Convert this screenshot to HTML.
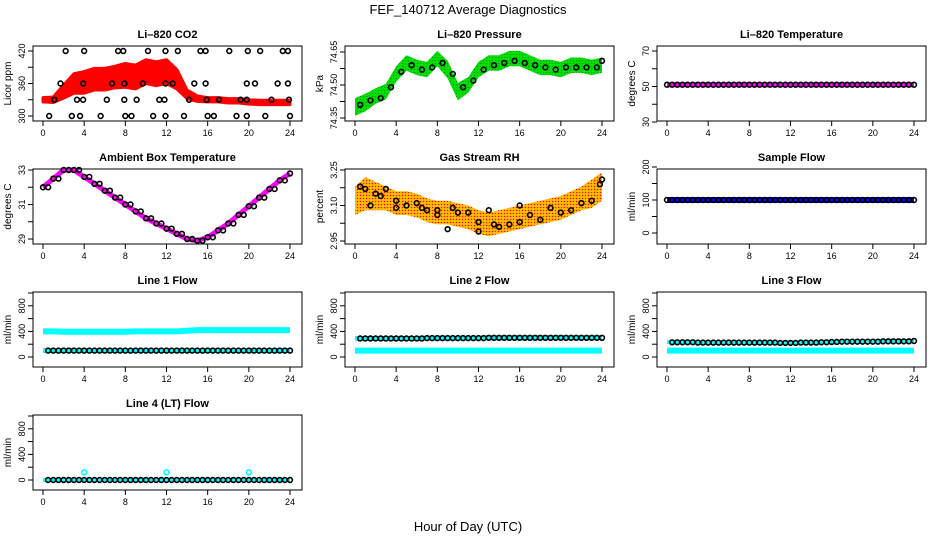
<!DOCTYPE html>
<html><head><meta charset="utf-8"><style>
body{margin:0;background:#fff}
svg{display:block;font-family:"Liberation Sans",sans-serif}
</style></head><body>
<svg id="c" width="936" height="540" viewBox="0 0 936 540" xmlns="http://www.w3.org/2000/svg">
<defs>
<pattern id="rhpat" width="3" height="3" patternUnits="userSpaceOnUse"><rect width="3" height="3" fill="#ffa500"/><rect width="1" height="1" fill="#ff0000"/><rect x="1.5" y="1.5" width="1" height="1" fill="#ffff00"/></pattern>
<pattern id="grpat" width="3" height="3" patternUnits="userSpaceOnUse"><rect width="3" height="3" fill="#00dd00"/><rect width="1" height="1" fill="#009900"/></pattern>
</defs>
<text x="468" y="14" font-size="13" text-anchor="middle">FEF_140712  Average Diagnostics</text>
<text x="468" y="531" font-size="13" text-anchor="middle">Hour of Day (UTC)</text>
</svg>
<script>
// ---- data ----
const hours = [0,1,2,3,4,5,6,7,8,9,10,11,12,13,14,15,16,17,18,19,20,21,22,23,24];
const co2Center = [330,330,345,360,362,368,368,372,375,372,382,378,382,368,340,332,330,330,328,328,326,325,325,325,325];
const co2Spread = [4,5,12,18,20,20,20,20,22,22,22,22,22,18,8,5,4,4,4,4,4,4,4,4,4];
const co2BlackH = [2.2,4.0,7.3,7.8,10.2,11.9,13.1,15.3,15.8,18.1,19.9,21.1,23.3,23.8,1.7,3.9,6.7,7.9,9.7,11.9,12.6,14.7,15.8,19.8,20.6,22.8,23.8,1.1,3.3,3.9,6.2,7.9,9.1,11.3,11.8,14.2,15.9,17.1,19.2,19.8,22.2,23.9,0.6,2.8,3.6,5.6,8.0,8.6,10.7,11.9,13.7,16.0,16.6,18.8,19.8,21.6,24.0];
const co2BlackV = [420,420,420,420,420,420,420,420,420,420,420,420,420,420,360,360,360,360,360,360,360,360,360,360,360,360,360,330,330,330,330,330,330,330,330,330,330,330,330,330,330,330,300,300,300,300,300,300,300,300,300,300,300,300,300,300,300];
const presCenter = [74.40,74.42,74.45,74.47,74.55,74.60,74.58,74.57,74.62,74.57,74.47,74.50,74.57,74.60,74.60,74.62,74.62,74.60,74.58,74.58,74.57,74.59,74.59,74.58,74.59];
const presSpread = [0.04,0.04,0.035,0.035,0.035,0.035,0.035,0.035,0.035,0.04,0.04,0.035,0.035,0.035,0.035,0.035,0.035,0.035,0.035,0.035,0.035,0.035,0.035,0.035,0.035];
const presBlackH = [0.5,1.5,2.5,3.5,4.5,5.5,6.5,7.5,8.5,9.5,10.5,11.5,12.5,13.5,14.5,15.5,16.5,17.5,18.5,19.5,20.5,21.5,22.5,23.5,24];
const presBlackV = [74.41,74.43,74.44,74.49,74.56,74.59,74.57,74.58,74.60,74.55,74.49,74.52,74.57,74.59,74.60,74.61,74.60,74.59,74.58,74.57,74.58,74.58,74.58,74.58,74.61];
const tempV = [51,51,51,51,51,51,51,51,51,51,51,51,51,51,51,51,51,51,51,51,51,51,51,51,51];
const ambV = [32.0,32.5,33.0,33.0,32.6,32.2,31.8,31.4,31.0,30.6,30.2,29.9,29.6,29.3,29.0,28.9,29.1,29.5,29.9,30.4,30.9,31.4,31.9,32.4,32.8];
const rhCenter = [3.12,3.15,3.14,3.13,3.11,3.11,3.10,3.08,3.07,3.07,3.06,3.05,3.03,3.02,3.03,3.04,3.05,3.06,3.07,3.08,3.09,3.11,3.13,3.15,3.18];
const rhSpread = [0.06,0.07,0.06,0.05,0.05,0.05,0.05,0.05,0.05,0.05,0.05,0.05,0.05,0.05,0.05,0.05,0.05,0.05,0.05,0.05,0.05,0.05,0.05,0.06,0.06];
const rhBlackH = [0.5,1.0,1.5,2.0,2.5,3.0,4.0,4.0,5.0,6.0,6.5,7.0,8.0,8.0,9.0,9.5,10.0,11.0,12.0,12.0,13.0,13.5,14.0,15.0,16.0,16.0,17.0,18.0,19.0,20.0,21.0,22.0,23.0,23.8,24.0];
const rhBlackV = [3.18,3.17,3.10,3.15,3.14,3.17,3.12,3.09,3.10,3.11,3.09,3.08,3.08,3.06,3.00,3.09,3.07,3.07,3.03,2.99,3.08,3.02,3.01,3.02,3.03,3.10,3.06,3.04,3.09,3.07,3.08,3.11,3.12,3.19,3.21];
const sampleV = [100,100,100,100,100,100,100,100,100,100,100,100,100,100,100,100,100,100,100,100,100,100,100,100,100];
const line1Top = [400,400,395,395,395,395,395,395,395,400,400,400,400,400,410,420,420,420,420,420,420,420,420,420,420];
const line1Bot = [100,100,100,100,100,100,100,100,100,100,100,100,100,100,100,100,100,100,100,100,100,100,100,100,100];
const line1Black = [100,100,100,100,100,100,100,100,100,100,100,100,100,100,100,100,100,100,100,100,100,100,100,100,100];
const line2Black = [290,290,290,290,290,290,290,295,295,295,295,295,295,300,300,300,300,300,300,300,300,300,300,300,300];
const line2Bot = [100,100,100,100,100,100,100,100,100,100,100,100,100,100,100,100,100,100,100,100,100,100,100,100,100];
const line3Black = [230,230,230,225,225,225,225,225,225,225,225,220,220,225,225,230,235,240,240,240,240,245,245,245,250];
const line3Bot = [100,100,100,100,100,100,100,100,100,100,100,100,100,100,100,100,100,100,100,100,100,100,100,100,100];
const line4Black = [0,0,0,0,0,0,0,0,0,0,0,0,0,0,0,0,0,0,0,0,0,0,0,0,0];
const line4SpikeH = [4,12,20];
const line4SpikeV = [120,120,120];
const xTicks = [0,4,8,12,16,20,24];

// ---- drawing ----
const svg = document.getElementById('c');
const NS = 'http://www.w3.org/2000/svg';
function mk(tag, attrs, parent){const e=document.createElementNS(NS,tag);for(const k in attrs)e.setAttribute(k,attrs[k]);(parent||svg).appendChild(e);return e;}
const colL=[33,345,657], rowT=[46,169,292,415], BW=269, BH=75;

function panel(name, col, row, title, ylab, v1, p1, v2, p2, yTicks){
  const L=colL[col], T=rowT[row];
  const g=mk('g',{});
  
  
  const x=h=>L+10+h*(247/24);
  const y=v=>T+p1+(v-v1)*(p2-p1)/(v2-v1);
  const box=mk('rect',{x:L,y:T,width:BW,height:BH,fill:'none',stroke:'#000','stroke-width':1},g);
  
  
  const t=mk('text',{x:L+BW/2,y:T-8,'font-size':11,'font-weight':'bold','text-anchor':'middle'},g);
  t.textContent=title;
  
  
  const yl=mk('text',{transform:`translate(${L-22},${T+BH/2}) rotate(-90)`,'font-size':10,'text-anchor':'middle'},g);
  yl.textContent=ylab;
  
  
  mk('line',{x1:x(0),x2:x(24),y1:T+BH,y2:T+BH,stroke:'#000'},g);
  xTicks.forEach(h=>{
    mk('line',{x1:x(h),x2:x(h),y1:T+BH,y2:T+BH+5,stroke:'#000'},g);
    const tl=mk('text',{x:x(h),y:T+BH+15,'font-size':9,'text-anchor':'middle'},g);
    tl.textContent=h;
    
    
  });
  yTicks.forEach(tk=>{
    mk('line',{x1:L,x2:L-5,y1:y(tk.v),y2:y(tk.v),stroke:'#000'},g);
    if(tk.l){
      const tl=mk('text',{transform:`translate(${L-8},${y(tk.v)}) rotate(-90)`,'font-size':9,'text-anchor':'middle'},g);
      tl.textContent=tk.l;
      
      
    }
  });
  return {g,x,y};
}
function band(p,center,spread,fill,name){
  let pts=hours.map((h,i)=>p.x(h)+','+p.y(center[i]+spread[i]));
  pts=pts.concat(hours.slice().reverse().map((h,j)=>{const i=hours.length-1-j;return p.x(h)+','+p.y(center[i]-spread[i]);}));
  const e=mk('polygon',{points:pts.join(' '),fill:fill,stroke:fill==='#ff0000'?'#ff0000':'none','stroke-width':3,'stroke-linejoin':'round'},p.g);
  
  
}
function thick(p,vals,color,w,name){
  const e=mk('polyline',{points:hours.map((h,i)=>p.x(h)+','+p.y(vals[i])).join(' '),fill:'none',stroke:color,'stroke-width':w,'stroke-linejoin':'round'},p.g);
  
  
}
function circles(p,hs,vs,color,name){
  hs.forEach((h,i)=>{
    const c=mk('circle',{cx:p.x(h),cy:p.y(vs[i]),r:2.4,fill:'none',stroke:color,'stroke-width':1.6},p.g);
    
    
  });
}
function dense(vals){
  const hs=[],vs=[];
  for(let i=0;i<hours.length;i++){hs.push(hours[i]);vs.push(vals[i]);if(i<hours.length-1){hs.push(hours[i]+0.5);vs.push(vals[i]);}}
  return [hs,vs];
}

let p=panel('co2',0,0,'Li\u2013820 CO2','Licor ppm',300,70,420,5,[{v:300,l:'300'},{v:330},{v:360,l:'360'},{v:390},{v:420,l:'420'}]);
band(p,co2Center,co2Spread,'#ff0000','co2-red-cloud');
circles(p,co2BlackH,co2BlackV,'#000','co2-point');
p=panel('pressure',1,0,'Li\u2013820 Pressure','kPa',74.35,72,74.65,6,[{v:74.35,l:'74.35'},{v:74.425},{v:74.50,l:'74.50'},{v:74.575},{v:74.65,l:'74.65'}]);
band(p,presCenter,presSpread,'url(#grpat)','pressure-green-cloud');
circles(p,presBlackH,presBlackV,'#000','pressure-point');
p=panel('li820-temp',2,0,'Li\u2013820 Temperature','degrees C',30,76,70,5,[{v:30,l:'30'},{v:40},{v:50,l:'50'},{v:60},{v:70,l:'70'}]);
thick(p,tempV,'#ff00ff',5,'li820-temp-magenta-line');
let d=dense(tempV);circles(p,d[0],d[1],'#000','li820-temp-point');
p=panel('ambient-temp',0,1,'Ambient Box Temperature','degrees C',29,70,33,1,[{v:29,l:'29'},{v:30},{v:31,l:'31'},{v:32},{v:33,l:'33'}]);
thick(p,ambV,'#ff00ff',5,'ambient-magenta-line');
d=dense(ambV);circles(p,d[0],d[1],'#000','ambient-point');
p=panel('gas-rh',1,1,'Gas Stream RH','percent',2.95,72,3.25,1,[{v:2.95,l:'2.95'},{v:3.025},{v:3.10,l:'3.10'},{v:3.175},{v:3.25,l:'3.25'}]);
band(p,rhCenter,rhSpread,'url(#rhpat)','rh-orange-cloud');
circles(p,rhBlackH,rhBlackV,'#000','rh-point');
p=panel('sample-flow',2,1,'Sample Flow','ml/min',0,64,200,-2,[{v:0,l:'0'},{v:50},{v:100,l:'100'},{v:150},{v:200,l:'200'}]);
thick(p,sampleV,'#0000ff',6,'sample-flow-blue-line');
d=dense(sampleV);circles(p,d[0],d[1],'#000','sample-flow-point');
const lf=[{v:0,l:'0'},{v:200},{v:400,l:'400'},{v:600},{v:800,l:'800'},{v:1000}];
p=panel('line1-flow',0,2,'Line 1 Flow','ml/min',0,65,1000,1,lf);
thick(p,line1Top,'#00ffff',6,'line1-cyan-high');
thick(p,line1Bot,'#00ffff',5,'line1-cyan-low');
d=dense(line1Black);circles(p,d[0].slice(1),d[1].slice(1),'#000','line1-point');
p=panel('line2-flow',1,2,'Line 2 Flow','ml/min',0,65,1000,1,lf);
thick(p,line2Bot,'#00ffff',6,'line2-cyan-low');
thick(p,line2Black,'#00ffff',5,'line2-cyan-high');
d=dense(line2Black);circles(p,d[0].slice(1),d[1].slice(1),'#000','line2-point');
p=panel('line3-flow',2,2,'Line 3 Flow','ml/min',0,65,1000,1,lf);
thick(p,line3Bot,'#00ffff',6,'line3-cyan-low');
thick(p,line3Black,'#00ffff',4,'line3-cyan-high');
d=dense(line3Black);circles(p,d[0].slice(1),d[1].slice(1),'#000','line3-point');
p=panel('line4-flow',0,3,'Line 4 (LT) Flow','ml/min',0,65,1000,1,lf);
thick(p,line4Black,'#00ffff',4,'line4-cyan-line');
circles(p,line4SpikeH,line4SpikeV,'#00ffff','line4-spike');
d=dense(line4Black);circles(p,d[0].slice(1),d[1].slice(1),'#000','line4-point');
</script>
</body></html>
